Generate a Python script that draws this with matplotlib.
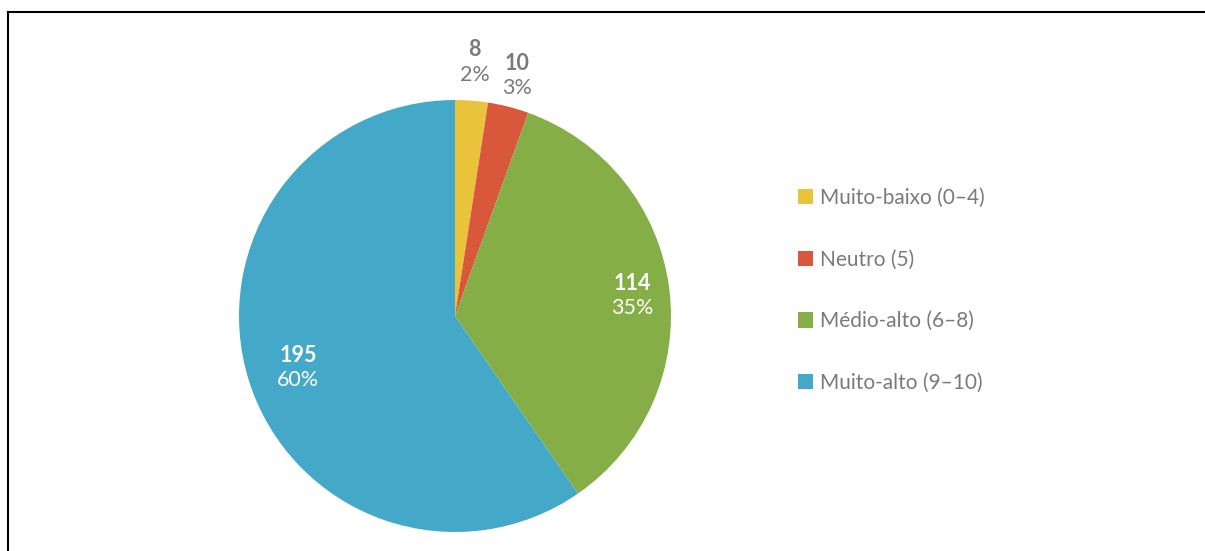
import numpy as np
import matplotlib
matplotlib.use("Agg")
import matplotlib.pyplot as plt
from matplotlib.patches import Patch
from matplotlib.lines import Line2D

categories = ["Muito-baixo (0–4)", "Neutro (5)", "Médio-alto (6–8)", "Muito-alto (9–10)"]
values = [8, 10, 114, 195]
percent_labels = ["2%", "3%", "35%", "60%"]
colors = ["#E9C43B", "#D9573B", "#85AF46", "#44A9C9"]
label_colors = ["#7A7A7A", "#7A7A7A", "white", "white"]
label_radii = [1.19, 1.16, 0.83, 0.76]

plt.rcParams['font.family'] = ['Lato', 'DejaVu Sans']

W, H = 1205, 551
fig = plt.figure(figsize=(W / 100, H / 100), dpi=100)

# frame lines (left and top)
fig.add_artist(Line2D([8 / W, 8 / W], [0, 1 - 12 / H], transform=fig.transFigure, color="black", lw=1.5))
fig.add_artist(Line2D([8 / W, 1], [1 - 12 / H, 1 - 12 / H], transform=fig.transFigure, color="black", lw=1.5))

cx, cy, r = 455, 316, 216
ax = fig.add_axes([(cx - r) / W, (H - cy - r) / H, 2 * r / W, 2 * r / H])
wedges, _ = ax.pie(values, colors=colors, startangle=90, counterclock=False,
                   radius=1, wedgeprops=dict(linewidth=0))
ax.set_xlim(-1, 1)
ax.set_ylim(-1, 1)
ax.set_aspect('equal')
ax.axis('off')

for w, v, p, c, rr in zip(wedges, values, percent_labels, label_colors, label_radii):
    ang = np.deg2rad((w.theta1 + w.theta2) / 2)
    x, y = rr * np.cos(ang), rr * np.sin(ang)
    ax.annotate(str(v), (x, y), xytext=(0, 7), textcoords='offset points',
                ha='center', va='center', fontsize=15.5, fontweight='bold', color=c,
                annotation_clip=False)
    ax.annotate(p, (x, y), xytext=(0, -11), textcoords='offset points',
                ha='center', va='center', fontsize=15.5, color=c,
                annotation_clip=False)

handles = [Patch(facecolor=c, edgecolor='none') for c in colors]
leg = fig.legend(handles, categories, loc='center left',
                 bbox_to_anchor=(779 / W, 1 - 290.5 / H), frameon=False,
                 fontsize=15, labelcolor="#7A7A7A", handlelength=0.75, handleheight=0.75,
                 handletextpad=0.3, labelspacing=2.0)

fig.savefig("out.png", dpi=100)
